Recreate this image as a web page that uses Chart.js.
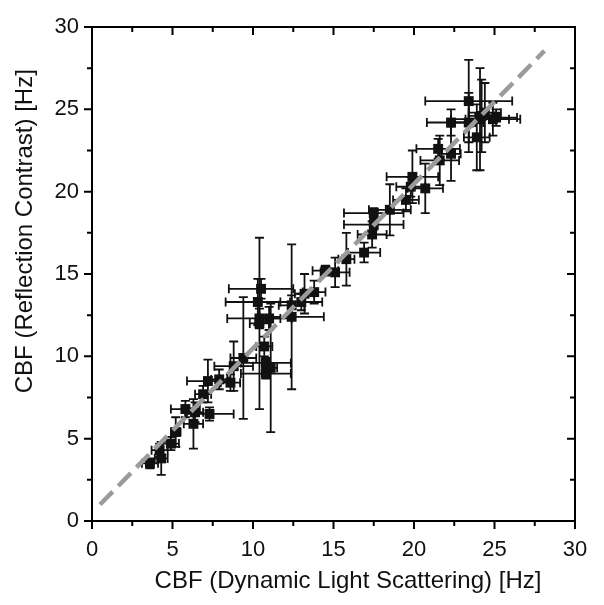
<!DOCTYPE html>
<html>
<head>
<meta charset="utf-8">
<script src="https://cdn.jsdelivr.net/npm/chart.js@4/dist/chart.umd.min.js"></script>
<style>
  html, body { margin: 0; padding: 0; background: #fff; }
  #wrap { width: 604px; height: 605px; }
</style>
</head>
<body>
<div id="wrap"><canvas id="cbfChart" width="604" height="605"></canvas></div>
<script>
// CBF measured by dynamic light scattering (x) vs reflection contrast (y), in Hz
const cbfDLS = [3.6, 4.3, 4.2, 4.9, 5.2, 5.8, 6.3, 6.4, 7.3, 6.9, 7.2, 7.9, 8.6, 8.8, 9.4,
  10.8, 11.1, 10.7, 10.4, 10.3, 10.4, 11.0, 12.4, 12.4, 13.0, 13.2, 13.8, 14.5, 15.1, 15.8,
  16.9, 17.4, 17.5, 17.5, 18.5, 19.5, 19.9, 19.8, 20.7, 21.5, 21.6, 22.3, 22.3, 23.4, 24.1,
  24.2, 24.4, 24.9, 23.4, 23.9, 25.1, 10.8, 10.5];
const cbfRC = [3.5, 3.8, 4.3, 4.7, 5.4, 6.8, 5.9, 6.6, 6.5, 7.7, 8.5, 8.6, 8.4, 9.4, 9.9,
  8.95, 9.3, 10.6, 12.0, 13.3, 12.3, 12.3, 13.1, 12.4, 13.3, 13.8, 13.9, 15.2, 15.1, 15.9,
  16.3, 17.4, 18.7, 18.0, 18.9, 19.5, 20.9, 20.3, 20.2, 22.6, 21.9, 22.3, 24.2, 25.5, 24.4,
  24.6, 24.8, 24.4, 24.2, 23.3, 24.5, 9.6, 14.1];
const errDLS = [0.5, 0.4, 0.5, 0.5, 0.3, 0.9, 0.6, 0.5, 1.5, 0.5, 1.3, 0.5, 0.6, 1.2, 0.8,
  1.55, 0.4, 0.5, 0.6, 2.0, 2.0, 0.7, 0.8, 2.0, 1.3, 0.6, 0.7, 0.8, 0.9, 0.5,
  1.0, 0.9, 1.85, 1.85, 1.3, 0.8, 1.6, 0.9, 1.1, 1.35, 1.2, 0.6, 1.5, 2.7, 1.8,
  0.8, 1.0, 1.7, 0.9, 0.8, 1.3, 1.55, 2.0];
const errRC = [0.3, 1.0, 0.4, 0.4, 0.9, 0.5, 1.5, 0.6, 0.4, 0.5, 1.3, 0.6, 0.5, 1.5, 3.7,
  0.3, 3.9, 0.6, 5.2, 1.4, 0.6, 0.7, 0.6, 4.4, 0.5, 1.2, 0.7, 0.3, 0.9, 1.6,
  0.6, 0.8, 0.3, 0.3, 1.55, 0.7, 1.6, 0.6, 1.5, 0.6, 1.5, 1.65, 0.8, 2.5, 3.1,
  2.2, 1.8, 1.0, 1.8, 2.0, 0.5, 0.3, 0.6];
// identity guide line end points
const guideX = [0.5, 28.1];
const guideY = [1.0, 28.55];
const axisTicks = [0, 5, 10, 15, 20, 25, 30];
const xTitle = 'CBF (Dynamic Light Scattering) [Hz]';
const yTitle = 'CBF (Reflection Contrast) [Hz]';

const points = cbfDLS.map((x, i) => ({ x: x, y: cbfRC[i] }));
const guide = guideX.map((x, i) => ({ x: x, y: guideY[i] }));

// draws the x/y error bars behind the markers
const errorBars = {
  id: 'errorBars',
  beforeDatasetsDraw(chart) {
    const ctx = chart.ctx;
    const xs = chart.scales.x, ys = chart.scales.y;
    const cap = 4.5;
    ctx.save();
    ctx.beginPath();
    ctx.rect(chart.chartArea.left, chart.chartArea.top,
      chart.chartArea.right - chart.chartArea.left, chart.chartArea.bottom - chart.chartArea.top);
    ctx.clip();
    ctx.strokeStyle = '#111';
    ctx.lineWidth = 1.8;
    points.forEach((p, i) => {
      const px = xs.getPixelForValue(p.x), py = ys.getPixelForValue(p.y);
      const x1 = xs.getPixelForValue(p.x - errDLS[i]), x2 = xs.getPixelForValue(p.x + errDLS[i]);
      const y1 = ys.getPixelForValue(p.y - errRC[i]), y2 = ys.getPixelForValue(p.y + errRC[i]);
      ctx.beginPath();
      ctx.moveTo(x1, py); ctx.lineTo(x2, py);
      ctx.moveTo(x1, py - cap); ctx.lineTo(x1, py + cap);
      ctx.moveTo(x2, py - cap); ctx.lineTo(x2, py + cap);
      ctx.moveTo(px, y1); ctx.lineTo(px, y2);
      ctx.moveTo(px - cap, y1); ctx.lineTo(px + cap, y1);
      ctx.moveTo(px - cap, y2); ctx.lineTo(px + cap, y2);
      ctx.stroke();
    });
    ctx.restore();
  }
};

// box frame with outward ticks on bottom/left, inward ticks on top/right, and axis titles
const frameTicks = {
  id: 'frameTicks',
  afterDraw(chart) {
    const ctx = chart.ctx;
    const a = chart.chartArea;
    const xs = chart.scales.x, ys = chart.scales.y;
    ctx.save();
    ctx.strokeStyle = '#000';
    ctx.lineWidth = 2;
    ctx.strokeRect(a.left, a.top, a.right - a.left, a.bottom - a.top);
    ctx.beginPath();
    for (let v = 0; v <= 30; v += 2.5) {
      const major = v % 5 === 0;
      const len = major ? 8 : 5;
      const px = xs.getPixelForValue(v);
      const py = ys.getPixelForValue(v);
      ctx.moveTo(px, a.bottom); ctx.lineTo(px, a.bottom + len);
      ctx.moveTo(px, a.top); ctx.lineTo(px, a.top + len);
      ctx.moveTo(a.left, py); ctx.lineTo(a.left - len, py);
      ctx.moveTo(a.right, py); ctx.lineTo(a.right - len, py);
    }
    ctx.stroke();

    // axis titles (sit a bit off-centre in the original figure)
    ctx.fillStyle = '#111';
    ctx.font = '24px "Liberation Sans", Arial, sans-serif';
    ctx.textAlign = 'center';
    ctx.textBaseline = 'middle';
    ctx.fillText(xTitle, xs.getPixelForValue(15.9), 581);
    ctx.translate(25, ys.getPixelForValue(17.6));
    ctx.rotate(-Math.PI / 2);
    ctx.fillText(yTitle, 0, 0);
    ctx.restore();
  }
};

const tickFont = { family: '"Liberation Sans", Arial, sans-serif', size: 22 };

new Chart(document.getElementById('cbfChart').getContext('2d'), {
  type: 'scatter',
  data: {
    datasets: [
      {
        type: 'line',
        data: guide,
        borderColor: '#9b9b9b',
        borderWidth: 4.5,
        borderDash: [18, 8],
        pointRadius: 0,
        fill: false
      },
      {
        data: points,
        pointStyle: 'rect',
        pointRadius: 7,
        backgroundColor: '#111',
        borderColor: '#111',
        borderWidth: 0
      }
    ]
  },
  options: {
    responsive: false,
    animation: false,
    layout: { padding: { left: 0, right: 29, top: 27, bottom: 0 } },
    plugins: { legend: { display: false }, tooltip: { enabled: false } },
    scales: {
      x: {
        type: 'linear', min: 0, max: 30,
        afterBuildTicks: s => { s.ticks = axisTicks.map(v => ({ value: v })); },
        afterFit: s => { s.height = 84; },
        grid: { display: false, drawTicks: false },
        border: { display: false },
        ticks: { color: '#111', font: tickFont, padding: 16, maxRotation: 0 },
        title: { display: false }
      },
      y: {
        type: 'linear', min: 0, max: 30,
        afterBuildTicks: s => { s.ticks = axisTicks.map(v => ({ value: v })); },
        afterFit: s => { s.width = 92; },
        grid: { display: false, drawTicks: false },
        border: { display: false },
        ticks: { color: '#111', font: tickFont, padding: 13 },
        title: { display: false }
      }
    }
  },
  plugins: [errorBars, frameTicks]
});
</script>
</body>
</html>
